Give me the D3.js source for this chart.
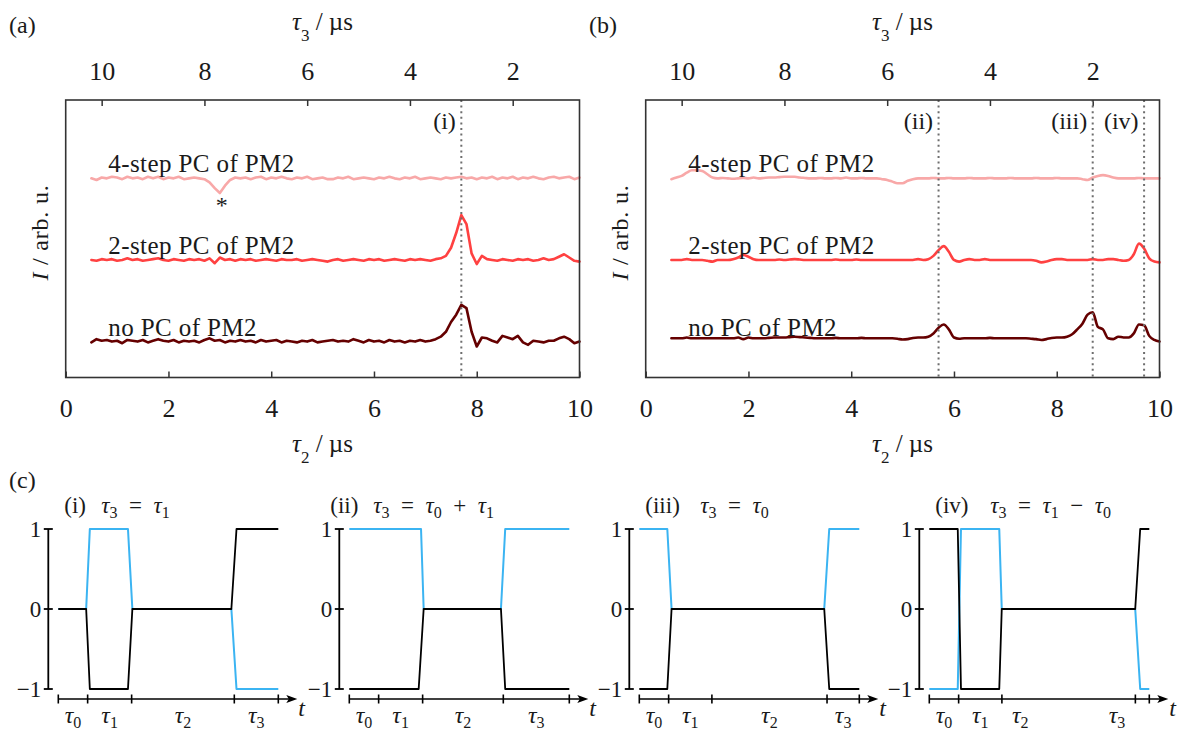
<!DOCTYPE html>
<html><head><meta charset="utf-8">
<script src="https://cdn.jsdelivr.net/npm/d3@7"></script>
<style>
body{margin:0;background:#fff}
svg{display:block}
text{font-family:"Liberation Serif","DejaVu Serif",serif;fill:#1a1a1a}
</style>
</head><body>
<svg id="chart" width="1179" height="730"></svg>
<script>
// ---------------- data ----------------
const tau2 = [0.5,0.6,0.7,0.8,0.9,1.0,1.1,1.2,1.3,1.4,
  1.5,1.6,1.7,1.8,1.9,2.0,2.1,2.2,2.3,2.4,
  2.5,2.6,2.7,2.8,2.9,3.0,3.1,3.2,3.3,3.4,
  3.5,3.6,3.7,3.8,3.9,4.0,4.1,4.2,4.3,4.4,
  4.5,4.6,4.7,4.8,4.9,5.0,5.1,5.2,5.3,5.4,
  5.5,5.6,5.7,5.8,5.9,6.0,6.1,6.2,6.3,6.4,
  6.5,6.6,6.7,6.8,6.9,7.0,7.1,7.2,7.3,7.4,
  7.5,7.6,7.7,7.8,7.9,8.0,8.1,8.2,8.3,8.4,
  8.5,8.6,8.7,8.8,8.9,9.0,9.1,9.2,9.3,9.4,
  9.5,9.6,9.7,9.8,9.9,10.0];
const tau2Ticks = [0,2,4,6,8,10];
const tau3Ticks = [10,8,6,4,2];
const traceNames = ["4-step PC of PM2","2-step PC of PM2","no PC of PM2"];
const traceOffsets = [2,1,0];
const traceColors = ["#f8a8a8","#ff4141","#650000"];

const a4step = [0.00,-0.02,0.01,0.00,0.02,0.01,-0.01,0.02,0.00,0.01,
  -0.01,0.02,0.00,0.02,-0.01,0.01,0.00,0.02,-0.01,0.00,
  0.01,0.00,-0.01,-0.05,-0.12,-0.18,-0.09,-0.02,0.01,0.00,
  0.01,-0.01,0.01,0.02,-0.01,0.01,0.00,0.02,0.00,-0.01,
  0.01,0.00,0.02,-0.01,0.00,0.01,-0.01,-0.01,0.01,0.00,
  0.02,-0.01,0.00,0.01,0.00,-0.01,0.01,0.00,0.02,0.00,
  -0.01,0.01,0.00,0.02,-0.01,0.00,0.01,0.00,-0.01,0.01,
  0.00,0.01,0.02,0.00,0.01,-0.01,0.01,0.00,0.02,-0.01,
  0.01,0.00,0.02,-0.01,0.01,0.00,0.02,0.00,-0.01,0.01,
  0.02,0.00,0.01,0.02,-0.01,0.01];
const a2step = [0.00,-0.01,0.01,0.00,0.01,-0.01,0.00,0.02,0.00,0.01,
  -0.01,0.00,0.01,0.02,0.00,-0.01,0.01,0.00,-0.01,0.01,
  0.00,0.01,-0.01,0.02,-0.04,0.03,0.00,0.01,-0.01,0.01,
  0.00,0.01,-0.01,0.00,0.01,0.00,-0.01,0.01,0.00,0.00,
  0.01,-0.01,0.00,0.01,0.00,-0.01,-0.02,0.00,0.01,-0.01,
  0.00,0.01,0.00,-0.01,0.01,0.00,0.01,-0.01,0.00,0.01,
  0.00,-0.01,0.01,0.00,0.01,0.00,-0.01,0.01,0.02,0.05,
  0.15,0.33,0.55,0.44,0.08,-0.05,0.05,0.01,0.00,-0.01,
  0.01,0.00,-0.01,0.01,0.00,0.01,-0.01,0.00,0.02,0.00,
  0.01,0.04,0.07,0.03,-0.01,-0.02];
const aNoPC = [-0.01,0.03,0.01,0.02,0.00,0.01,-0.02,0.02,0.01,0.00,
  0.02,-0.01,0.01,0.03,0.01,0.00,0.02,-0.01,0.01,0.00,
  0.01,-0.01,0.02,0.04,0.01,0.02,-0.01,0.01,0.00,0.02,
  0.00,0.01,-0.01,0.02,0.00,0.01,0.02,-0.01,0.01,0.00,
  -0.01,0.01,0.00,0.02,-0.01,0.00,0.01,0.02,0.00,0.01,
  0.00,0.03,0.01,-0.01,0.02,0.00,0.01,-0.01,0.02,0.00,
  0.01,-0.01,0.01,0.00,0.02,0.00,0.01,0.03,0.06,0.12,
  0.24,0.33,0.45,0.41,0.12,-0.06,0.05,0.04,0.01,-0.01,
  0.07,0.05,0.03,0.07,-0.01,-0.04,0.01,0.00,-0.01,0.01,
  0.01,0.04,0.06,0.03,-0.02,0.00];

const b4step = [-0.01,0.01,0.03,0.07,0.10,0.10,0.09,0.05,0.01,0.00,
  0.005,0.00,-0.005,0.00,0.005,0.00,0.01,0.00,0.005,0.01,
  0.01,0.015,0.02,0.02,0.02,0.01,0.005,0.00,0.00,0.005,
  0.00,0.00,0.005,0.00,0.01,0.00,0.00,0.005,0.00,0.00,
  0.00,-0.01,-0.02,-0.04,-0.06,-0.06,-0.03,-0.01,0.00,0.00,
  0.00,0.005,0.00,0.00,0.005,0.00,0.00,0.00,0.005,0.00,
  0.00,0.00,0.005,0.00,0.00,0.00,0.005,0.00,0.00,0.00,
  0.00,0.005,0.00,0.00,0.00,0.005,0.00,0.00,0.00,0.00,
  -0.01,-0.02,0.01,0.03,0.04,0.03,0.01,0.00,0.00,0.00,
  0.00,0.005,0.00,0.00,0.00,0.00];
const b2step = [0.00,0.00,0.00,0.01,0.00,0.00,0.00,-0.01,-0.02,0.00,
  0.00,0.00,0.01,0.03,0.06,0.04,0.01,0.00,0.00,0.00,
  0.00,0.005,0.00,0.005,0.01,0.005,0.00,0.00,0.00,0.00,
  0.00,0.00,0.005,0.00,0.00,0.00,0.005,0.00,0.00,0.00,
  0.00,0.00,0.00,0.00,0.00,0.00,0.00,0.00,0.01,0.00,
  0.01,0.05,0.12,0.17,0.10,0.00,-0.02,0.00,0.01,0.00,
  0.00,0.01,0.00,0.00,0.00,0.00,0.00,0.00,0.00,0.00,
  0.00,-0.01,-0.03,-0.02,0.00,0.01,0.01,0.00,0.00,0.00,
  0.00,0.00,0.01,0.00,0.00,0.01,0.01,0.00,-0.01,0.00,
  0.07,0.20,0.14,0.02,-0.02,-0.03];
const bNoPC = [0.04,0.04,0.04,0.05,0.04,0.04,0.04,0.04,0.04,0.04,
  0.04,0.04,0.04,0.05,0.03,0.05,0.04,0.04,0.04,0.045,
  0.05,0.05,0.05,0.055,0.06,0.055,0.05,0.045,0.04,0.04,
  0.04,0.04,0.045,0.04,0.04,0.04,0.04,0.045,0.04,0.04,
  0.04,0.04,0.04,0.04,0.035,0.025,0.03,0.045,0.05,0.05,
  0.06,0.10,0.17,0.21,0.15,0.05,0.035,0.04,0.04,0.04,
  0.04,0.04,0.045,0.04,0.04,0.04,0.04,0.04,0.04,0.04,
  0.035,0.03,0.02,0.03,0.045,0.05,0.05,0.06,0.09,0.15,
  0.22,0.33,0.36,0.18,0.15,0.04,0.03,0.06,0.05,0.05,
  0.10,0.21,0.20,0.07,0.02,0.00];

// marker lines, given in tau3 (µs)
const markTau3A = [3];
const markLabelsA = ["(i)"];
const markTau3B = [5, 2, 1];
const markLabelsB = ["(ii)","(iii)","(iv)"];
const asteriskTau2 = 3.0;

// panel (c): pulse sequences (time in µs-like units, value -1..1)
const levelTicks = [1, 0, -1];
const levelLabels = ["1", "0", "\u22121"];
const subTitles = ["(i)","(ii)","(iii)","(iv)"];
const EQ = "\u2002=\u2002", PLUS = "\u2002+\u2002", MINUS = "\u2002\u2212\u2002";
const subFormulas = [
  [["τ","i"],["3","s"],[EQ,""],["τ","i"],["1","s"]],
  [["τ","i"],["3","s"],[EQ,""],["τ","i"],["0","s"],[PLUS,""],["τ","i"],["1","s"]],
  [["τ","i"],["3","s"],[EQ,""],["τ","i"],["0","s"]],
  [["τ","i"],["3","s"],[EQ,""],["τ","i"],["1","s"],[MINUS,""],["τ","i"],["0","s"]]
];
const pulseTicks = [[0,2,5,12,15],[0,2,5,10.5,15],[0,2,4.95,12.8,15],[0,2,4.95,14.05,15]];
const pulseLabelPos = [[1,3.5,8.5,13.5],[1,3.5,7.75,12.75],[1,3.47,8.87,13.9],[1,3.47,6.2,12.8]];
const pulseNames = ["0","1","2","3"];
const bluePulses = [
  [[0,0],[1.9,0],[2.15,1],[4.75,1],[5.05,0],[11.8,0],[12.15,-1],[15,-1]],
  [[0,1],[4.89,1],[5.07,0],[10.34,0],[10.63,1],[15,1]],
  [[0,1],[1.91,1],[2.2,0],[12.61,0],[12.95,1],[15,1]],
  [[0,-1],[1.94,-1],[2.16,1],[4.77,1],[4.94,0],[14.04,0],[14.38,-1],[15,-1]]
];
const blackPulses = [
  [[0,0],[1.9,0],[2.15,-1],[4.75,-1],[5.05,0],[11.8,0],[12.15,1],[15,1]],
  [[0,-1],[4.73,-1],[5.07,0],[10.34,0],[10.63,-1],[15,-1]],
  [[0,-1],[1.91,-1],[2.2,0],[12.61,0],[12.95,-1],[15,-1]],
  [[0,1],[1.94,1],[2.16,-1],[4.77,-1],[4.94,0],[14.04,0],[14.38,1],[15,1]]
];

// ---------------- drawing ----------------
const SERIF = '"Liberation Serif","DejaVu Serif",serif';
const svg = d3.select("#chart");
svg.append("rect").attr("width",1179).attr("height",730).attr("fill","#fff");

function mtext(parent, x, y, parts, size, anchor, subShift, subSize) {
  const t = parent.append("text").attr("x",x).attr("y",y)
    .attr("font-size",size).attr("text-anchor",anchor||"start");
  let shifted = 0;
  parts.forEach(([s,k]) => {
    const sp = t.append("tspan").text(s);
    if (k === "s") {
      sp.attr("font-size", subSize).attr("dy", subShift - shifted);
      shifted = subShift;
    } else {
      if (shifted) { sp.attr("dy", -shifted); shifted = 0; }
      if (k === "i") sp.attr("font-style","italic");
    }
  });
  return t;
}

const BOX = {l:65.7, r:579.5, t:100, b:377.5};
const panels = [
  {key:"(a)", dx:0, data:[a4step,a2step,aNoPC], marks:markTau3A, markLbl:markLabelsA, curve:d3.curveLinear, star:true},
  {key:"(b)", dx:580, data:[b4step,b2step,bNoPC], marks:markTau3B, markLbl:markLabelsB, curve:d3.curveMonotoneX, star:false}
];

panels.forEach(p => {
  const g = svg.append("g").attr("transform",`translate(${p.dx},0)`);
  const x = d3.scaleLinear().domain([0,10]).range([BOX.l, BOX.r]);
  const x3 = d3.scaleLinear().domain([10.7,0.7]).range([BOX.l, BOX.r]);
  const y = d3.scaleLinear().domain([-0.44,2.96]).range([BOX.b, BOX.t]);

  const topAx = g.append("g").attr("transform",`translate(0,${BOX.t})`)
    .call(d3.axisTop(x3).tickValues(tau3Ticks).tickFormat(d3.format("d"))
      .tickSizeInner(-6).tickSizeOuter(0).tickPadding(20));
  const botAx = g.append("g").attr("transform",`translate(0,${BOX.b})`)
    .call(d3.axisBottom(x).tickValues(tau2Ticks).tickFormat(d3.format("d"))
      .tickSizeInner(-6).tickSizeOuter(0).tickPadding(21));
  [topAx, botAx].forEach(a => {
    a.select(".domain").remove();
    a.attr("font-family", SERIF).attr("font-size", 26);
    a.selectAll(".tick line").attr("stroke","#333").attr("stroke-width",1.5);
    a.selectAll(".tick text").attr("fill","#1a1a1a");
  });

  // traces
  p.data.forEach((vals,k) => {
    g.append("path").datum(vals)
      .attr("fill","none").attr("stroke",traceColors[k]).attr("stroke-width",2.6)
      .attr("stroke-linejoin","round").attr("stroke-linecap","round")
      .attr("d", d3.line().curve(p.curve).x((d,i)=>x(tau2[i])).y(d=>y(d+traceOffsets[k])));
    g.append("text").attr("x",x(0.83)).attr("y",y(traceOffsets[k])-6)
      .attr("font-size",25).attr("letter-spacing","0.4px").text(traceNames[k]);
  });

  // dotted marker lines
  p.marks.forEach((m,j) => {
    g.append("line").attr("x1",x3(m)).attr("x2",x3(m)).attr("y1",BOX.t).attr("y2",BOX.b)
      .attr("stroke","#6e6e6e").attr("stroke-width",2).attr("stroke-dasharray","2,3.6");
    g.append("text").attr("x",x3(m)-5.5).attr("y",129).attr("text-anchor","end")
      .attr("font-size",24).text(p.markLbl[j]);
  });

  if (p.star) {
    g.append("text").attr("x",x(asteriskTau2)+2).attr("y",213).attr("text-anchor","middle")
      .attr("font-size",24).text("*");
  }

  // frame
  g.append("rect").attr("x",BOX.l).attr("y",BOX.t).attr("width",BOX.r-BOX.l).attr("height",BOX.b-BOX.t)
    .attr("fill","none").attr("stroke","#333").attr("stroke-width",1.6);

  // titles
  mtext(g, 322.5, 30, [["τ","i"],["3","s"],[" / µs",""]], 25, "middle", 11, 17);
  mtext(g, 322.5, 452, [["τ","i"],["2","s"],[" / µs",""]], 25, "middle", 11, 17);
  const yl = g.append("text").attr("transform","translate(48,232.5) rotate(-90)")
    .attr("text-anchor","middle").attr("font-size",24).attr("letter-spacing","0.8px");
  yl.append("tspan").attr("font-style","italic").text("I");
  yl.append("tspan").text(" / arb. u.");
  g.append("text").attr("x",9).attr("y",33).attr("font-size",24).text(p.key);
});

// panel (c)
svg.append("text").attr("x",9).attr("y",488).attr("font-size",24).text("(c)");
const OX = [48.3, 339.3, 629.3, 919.3];
const titleX = [[16,53],[-9,34],[16,71],[16,71]];
const yS = d3.scaleLinear().domain([-1,1]).range([689,529]);
const TY = 699;

OX.forEach((ox, s) => {
  const g = svg.append("g");
  const tx = d3.scaleLinear().domain([0,15]).range([ox+10, ox+230]);

  g.append("line").attr("x1",ox).attr("x2",ox).attr("y1",yS(1)).attr("y2",yS(-1))
    .attr("stroke","#000").attr("stroke-width",1.8);
  levelTicks.forEach((v,i) => {
    g.append("line").attr("x1",ox-4.5).attr("x2",ox+4.5).attr("y1",yS(v)).attr("y2",yS(v))
      .attr("stroke","#000").attr("stroke-width",1.8);
    g.append("text").attr("x",ox-7).attr("y",yS(v)+8).attr("text-anchor","end")
      .attr("font-size",23).text(levelLabels[i]);
  });

  g.append("line").attr("x1",tx(0)).attr("x2",ox+242).attr("y1",TY).attr("y2",TY)
    .attr("stroke","#000").attr("stroke-width",1.6);
  g.append("path").attr("d",`M${ox+249},${TY} L${ox+238},${TY-4} L${ox+240.5},${TY} L${ox+238},${TY+4} Z`)
    .attr("fill","#000");
  pulseTicks[s].forEach(b => {
    g.append("line").attr("x1",tx(b)).attr("x2",tx(b)).attr("y1",TY-4.5).attr("y2",TY+4.5)
      .attr("stroke","#000").attr("stroke-width",1.6);
  });
  pulseLabelPos[s].forEach((c,k) => {
    mtext(g, tx(c), 723, [["τ","i"],[pulseNames[k],"s"]], 24, "middle", 5, 16);
  });
  g.append("text").attr("x",ox+250).attr("y",716).attr("font-size",24)
    .attr("font-style","italic").text("t");

  const wl = d3.line().x(d=>tx(d[0])).y(d=>yS(d[1]));
  g.append("path").datum(bluePulses[s]).attr("fill","none").attr("stroke","#3bb4f2")
    .attr("stroke-width",2).attr("stroke-linejoin","round").attr("d",wl);
  g.append("path").datum(blackPulses[s]).attr("fill","none").attr("stroke","#000")
    .attr("stroke-width",1.8).attr("stroke-linejoin","round").attr("d",wl);

  g.append("text").attr("x",ox+titleX[s][0]).attr("y",513).attr("font-size",23).text(subTitles[s]);
  mtext(g, ox+titleX[s][1], 513, subFormulas[s], 23, "start", 5, 16);
});
</script>
</body></html>
